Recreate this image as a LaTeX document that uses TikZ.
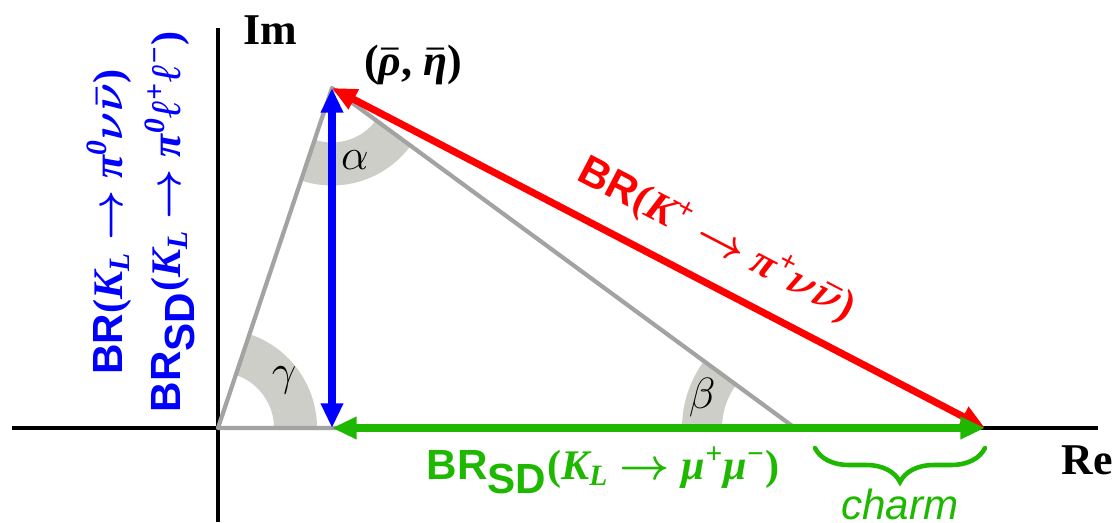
\documentclass[tikz,border=0pt]{standalone}
\usepackage{fontspec}
\setmainfont{Liberation Serif}
\setsansfont{Liberation Sans}
\usetikzlibrary{arrows.meta, angles, quotes, decorations.pathreplacing}
\definecolor{cblue}{HTML}{0000FF}
\definecolor{cred}{HTML}{FF0000}
\definecolor{cgreen}{HTML}{1EB800}
\definecolor{cgray}{HTML}{A3A3A3}
\definecolor{cwedge}{HTML}{CDCEC8}
% italic serif letters inside the sans labels
\newcommand{\mi}[1]{{\rmfamily\itshape #1}}
\newcommand{\up}[1]{{\rmfamily #1}}
\newcommand{\mbar}[1]{$\bar{\hbox{\mi{#1}}}$}
\newcommand{\BRsd}{BR$_{\textsf{\textbf{SD}}}$}
\newcommand{\ang}[1]{{\fontsize{24}{28}\selectfont$#1$}}

\begin{document}
\begin{tikzpicture}[
    big/.style={font=\fontsize{24}{33}\selectfont\sffamily\bfseries\boldmath},
    axlab/.style={font=\fontsize{25}{30}\selectfont\bfseries\boldmath},
    axis/.style={black, line width=2pt},
    side/.style={cgray, line width=2.4pt, line join=round},
    arr/.style={{Triangle[length=14pt, width=12pt]}-{Triangle[length=14pt, width=12pt]}, line width=4pt},
    wedge/.style={draw=cwedge, line width=#1},
]
\useasboundingbox (0,0) rectangle (22.34,10.44);

% ============================================================ points
\coordinate (O) at (4.36,1.88);
\coordinate (A) at (6.64,8.68);
\coordinate (P) at (6.64,1.88);
\coordinate (B) at (15.90,1.88);
\coordinate (C) at (19.70,1.88);
\coordinate (xl) at (0.24,1.88);
\coordinate (xr) at (21.96,1.88);
\coordinate (yb) at (4.36,0);
\coordinate (yt) at (4.36,9.88);
\coordinate (br1) at (16.30,1.48);
\coordinate (br2) at (19.70,1.48);

% ============================================================ axes
\draw[axis] (xl) -- (xr);
\draw[axis] (yb) -- (yt);
\node[axlab] (im) at (5.40,9.84) {Im};
\node[axlab] (re) at (21.74,1.24) {Re};

% ============================================================ angles
\pic[wedge=0.86cm, angle radius=1.55cm, pic text={\ang{\gamma}}, angle eccentricity=1.05] {angle=B--O--A};
\pic[wedge=0.86cm, angle radius=1.52cm, pic text={\ang{\alpha}}, angle eccentricity=1.0] {angle=O--A--B};
\pic[wedge=0.80cm, angle radius=1.86cm, pic text={\ang{\beta}}, angle eccentricity=1.05] {angle=A--B--O};

% ============================================================ the triangle
\draw[side] (O) -- (A) -- (B) -- cycle;
\node[axlab] (rhoeta) at (8.26,9.14) {(\mbar{ρ}, \mbar{η})};

% ============================================================ the three measurements
\draw[arr, cred] (A) -- (C);
\draw[arr, cgreen] (P) -- (C);
\draw[arr, cblue] (A) -- (P);

\node[big, text=cred, rotate=-27.5] (kplus) at (14.34,5.64)
    {BR\up{(}\mi{K\textsuperscript{+}} $\to$ \mi{π\textsuperscript{+}}$\nu\bar{\nu}$\up{)}};
\node[big, text=cblue, rotate=90, align=center] (klong) at (2.82,6.00)
    {BR\up{(}\mi{K\textsubscript{L}} $\to$ \mi{π\textsuperscript{0}}$\nu\bar{\nu}$\up{)}\\
     \BRsd\up{(}\mi{K\textsubscript{L}} $\to$ \mi{π\textsuperscript{0}ℓ\textsuperscript{+}ℓ\textsuperscript{−}}\up{)}};
\node[big, text=cgreen] (mumu) at (12.06,1.04)
    {\BRsd\up{(}\mi{K\textsubscript{L}} $\to$ \mi{μ\textsuperscript{+}μ\textsuperscript{−}}\up{)}};

% ============================================================ charm part
\draw[cgreen, line width=2.6pt, line cap=round, decorate,
    decoration={brace, amplitude=0.68cm, mirror}] (br1) -- (br2);
\node[font=\fontsize{24}{28}\selectfont\sffamily\itshape, text=cgreen, anchor=base] (charm) at (18.0,0.06) {charm};

\end{tikzpicture}
\end{document}
